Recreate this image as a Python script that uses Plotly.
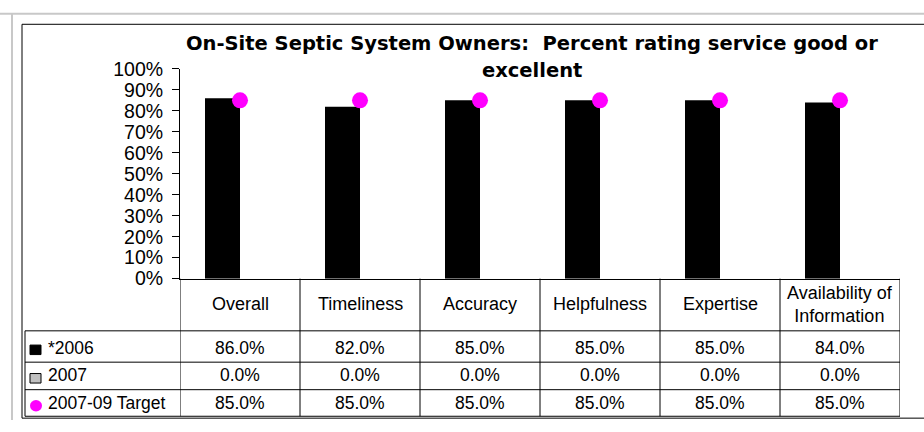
import plotly.graph_objects as go

# ==========================================================
# Data
# ==========================================================

categories = ["Overall", "Timeliness", "Accuracy", "Helpfulness", "Expertise",
              "Availability of<br>Information"]
series_names = ["*2006", "2007", "2007-09 Target"]
values_2006 = [0.86, 0.82, 0.85, 0.85, 0.85, 0.84]
values_2007 = [0.0, 0.0, 0.0, 0.0, 0.0, 0.0]
values_target = [0.85, 0.85, 0.85, 0.85, 0.85, 0.85]
y_ticks = [0, 0.1, 0.2, 0.3, 0.4, 0.5, 0.6, 0.7, 0.8, 0.9, 1.0]

W, H = 924, 432
FONT = "Liberation Sans, Arial, sans-serif"


def px_x(p):
    return p / W


def px_y(p):
    return 1 - p / H


# ==========================================================
# Figure
# ==========================================================

fig = go.Figure()

fig.add_trace(go.Bar(x=categories, y=values_2006, name=series_names[0],
                     marker=dict(color="black", line=dict(width=0))))
fig.add_trace(go.Bar(x=categories, y=values_2007, name=series_names[1],
                     marker=dict(color="#c0c0c0", line=dict(width=0))))
fig.add_trace(go.Scatter(x=categories, y=values_target, name=series_names[2],
                         mode="markers",
                         marker=dict(color="#ff00ff", size=16)))

fig.update_layout(
    width=W, height=H,
    margin=dict(l=0, r=0, t=0, b=0),
    paper_bgcolor="white", plot_bgcolor="white",
    showlegend=False,
    barmode="group", bargap=0.4167, bargroupgap=0,
    font=dict(family=FONT, color="black", size=17),
)

fig.update_xaxes(
    domain=[px_x(180), px_x(900)],
    range=[-0.5, len(categories) - 0.5],
    showticklabels=False, ticks="",
    showline=True, linecolor="black", linewidth=1,
    showgrid=False, zeroline=False,
)

fig.update_yaxes(
    domain=[px_y(282), px_y(61)],
    range=[0, 1],
    tickvals=y_ticks, tickformat=".0%",
    ticks="outside", ticklen=7, tickcolor="black",
    ticklabelstandoff=5,
    tickfont=dict(size=19.5, family=FONT, color="black"),
    showline=True, linecolor="black", linewidth=1,
    showgrid=False, zeroline=False,
)

# Title
fig.add_annotation(
    text="<b>On-Site Septic System Owners:  Percent rating service good or</b>",
    xref="paper", yref="paper", x=px_x(532), y=px_y(34),
    xanchor="center", yanchor="middle", showarrow=False,
    font=dict(size=19.5, family="DejaVu Sans", color="black"),
)
fig.add_annotation(
    text="<b>excellent</b>",
    xref="paper", yref="paper", x=px_x(532), y=px_y(63),
    xanchor="center", yanchor="middle", showarrow=False,
    font=dict(size=19.5, family="DejaVu Sans", color="black"),
)

# ==========================================================
# Data table
# ==========================================================

shapes = []
line = dict(color="black", width=1)

# frames
shapes.append(dict(type="line", xref="paper", yref="paper",
                   x0=0, x1=1, y0=px_y(3), y1=px_y(3),
                   line=dict(color="#c8c8c8", width=2)))
shapes.append(dict(type="line", xref="paper", yref="paper",
                   x0=px_x(12), x1=px_x(12), y0=px_y(3), y1=px_y(431),
                   line=dict(color="#c8c8c8", width=2)))
shapes.append(dict(type="rect", xref="paper", yref="paper",
                   x0=px_x(22), x1=px_x(930), y0=px_y(429), y1=px_y(14),
                   line=line))

# horizontal rules
for yp in [337, 370, 399, 427]:
    shapes.append(dict(type="line", xref="paper", yref="paper",
                       x0=px_x(25), x1=px_x(900), y0=px_y(yp), y1=px_y(yp),
                       line=line))
shapes.append(dict(type="line", xref="paper", yref="paper",
                   x0=px_x(25), x1=px_x(25), y0=px_y(337), y1=px_y(427),
                   line=line))

# vertical rules between categories
for i in range(len(categories) + 1):
    shapes.append(dict(type="line", xref="x", yref="paper",
                       x0=i - 0.5, x1=i - 0.5, y0=px_y(282), y1=px_y(427),
                       line=line))

# legend keys
shapes.append(dict(type="rect", xref="paper", yref="paper",
                   x0=px_x(30), x1=px_x(41), y0=px_y(362), y1=px_y(352),
                   fillcolor="black", line=dict(color="black", width=1)))
shapes.append(dict(type="rect", xref="paper", yref="paper",
                   x0=px_x(30), x1=px_x(41), y0=px_y(392), y1=px_y(382),
                   fillcolor="#c0c0c0", line=dict(color="black", width=1)))
shapes.append(dict(type="circle", xref="paper", yref="paper",
                   x0=px_x(30), x1=px_x(42), y0=px_y(422), y1=px_y(410),
                   fillcolor="#ff00ff", line=dict(color="#ff00ff", width=0)))

fig.update_layout(shapes=shapes)

# header row
for cat in categories:
    fig.add_annotation(text=cat, xref="x", yref="paper", x=cat, y=px_y(309),
                       xanchor="center", yanchor="middle", showarrow=False,
                       font=dict(size=18, family=FONT, color="black"))

# value rows
rows = [values_2006, values_2007, values_target]
row_y = [355, 384, 413]
for name, vals, yp in zip(series_names, rows, row_y):
    fig.add_annotation(text=name, xref="paper", yref="paper", x=px_x(46),
                       y=px_y(yp), xanchor="left", yanchor="middle",
                       showarrow=False,
                       font=dict(size=17.5, family=FONT, color="black"))
    for cat, v in zip(categories, vals):
        fig.add_annotation(text=f"{v:.1%}", xref="x", yref="paper", x=cat,
                           y=px_y(yp), xanchor="center", yanchor="middle",
                           showarrow=False,
                           font=dict(size=17.5, family=FONT, color="black"))

fig.write_html("out.html", config={"displayModeBar": False},
               post_script="document.body.style.margin = '0';")
